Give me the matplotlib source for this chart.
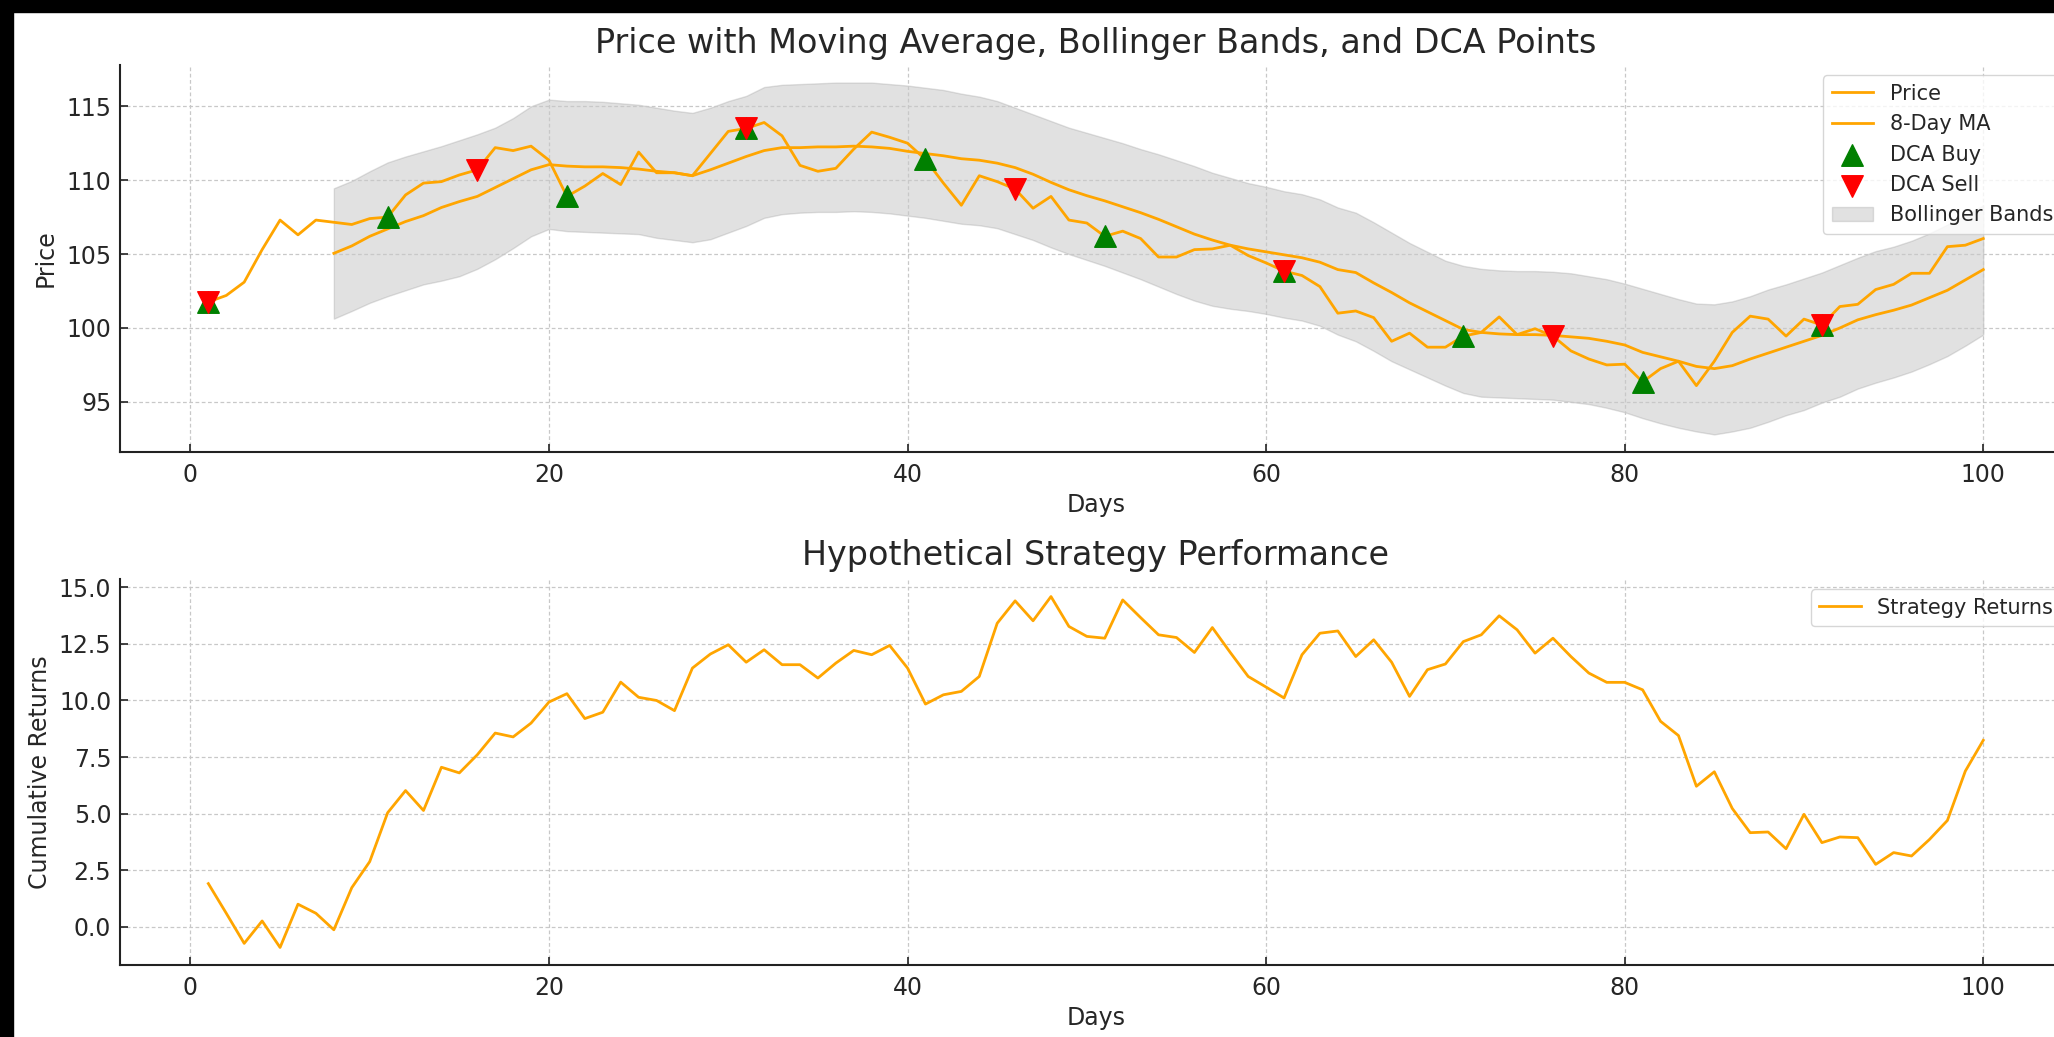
import matplotlib
matplotlib.use("Agg")
import matplotlib.pyplot as plt
from matplotlib.patches import Rectangle

# days shown on both panels
days = list(range(1, 101))

# price, day 1..100
price = [101.76, 102.2, 103.1, 105.3, 107.3, 106.3, 107.3, 107.15, 107.0, 107.4,
         107.5, 109.0, 109.8, 109.9, 110.35, 110.7, 112.2, 112.0, 112.3, 111.35,
         108.9, 109.6, 110.45, 109.7, 111.9, 110.5, 110.5, 110.3, 111.8, 113.3,
         113.5, 113.9, 113.0, 111.0, 110.6, 110.8, 112.1, 113.25, 112.9, 112.5,
         111.4, 109.8, 108.3, 110.3, 109.9, 109.4, 108.1, 108.9, 107.3, 107.1,
         106.2, 106.55, 106.05, 104.8, 104.8, 105.3, 105.35, 105.6, 104.9, 104.4,
         103.85, 103.55, 102.8, 101.0, 101.15, 100.7, 99.1, 99.65, 98.7, 98.7,
         99.45, 99.7, 100.75, 99.55, 99.95, 99.45, 98.45, 97.9, 97.5, 97.55,
         96.35, 97.25, 97.75, 96.1, 97.75, 99.7, 100.8, 100.6, 99.45, 100.6,
         100.2, 101.45, 101.6, 102.6, 102.95, 103.7, 103.7, 105.5, 105.6, 106.05]

# 8-day moving average and bands, day 8..100
ma_days = list(range(8, 101))
ma = [105.05, 105.55, 106.2, 106.7, 107.2, 107.6, 108.15, 108.55, 108.9, 109.5,
      110.1, 110.7, 111.05, 110.95, 110.9, 110.9, 110.85, 110.75, 110.6, 110.5,
      110.3, 110.7, 111.15, 111.6, 112.0, 112.2, 112.2, 112.25, 112.25, 112.3,
      112.25, 112.15, 111.95, 111.8, 111.65, 111.45, 111.35, 111.15, 110.85, 110.4,
      109.85, 109.35, 108.95, 108.6, 108.2, 107.8, 107.35, 106.85, 106.35, 105.95,
      105.6, 105.35, 105.15, 104.95, 104.75, 104.45, 103.95, 103.75, 103.05, 102.4,
      101.7, 101.1, 100.5, 99.9, 99.7, 99.6, 99.55, 99.55, 99.5, 99.4,
      99.3, 99.1, 98.85, 98.35, 98.05, 97.75, 97.4, 97.25, 97.45, 97.9,
      98.3, 98.7, 99.1, 99.5, 100.0, 100.55, 100.9, 101.2, 101.55, 102.05,
      102.55, 103.25, 103.95]
upper_band = [109.45, 109.95, 110.6, 111.2, 111.6, 111.95, 112.3, 112.7, 113.1, 113.55,
              114.2, 115.0, 115.45, 115.35, 115.35, 115.3, 115.2, 115.1, 114.9, 114.7,
              114.55, 114.9, 115.35, 115.7, 116.3, 116.45, 116.5, 116.55, 116.6, 116.6,
              116.6, 116.5, 116.4, 116.25, 116.1, 115.85, 115.65, 115.35, 114.9, 114.45,
              114.0, 113.55, 113.2, 112.85, 112.5, 112.1, 111.75, 111.35, 110.95, 110.5,
              110.15, 109.8, 109.55, 109.25, 109.05, 108.7, 108.15, 107.8, 107.15, 106.45,
              105.75, 105.15, 104.55, 104.2, 104.0, 103.9, 103.85, 103.85, 103.8, 103.7,
              103.5, 103.3, 103.0, 102.65, 102.3, 101.95, 101.65, 101.6, 101.8, 102.15,
              102.6, 102.95, 103.35, 103.75, 104.25, 104.75, 105.2, 105.5, 105.9, 106.4,
              107.0, 107.6, 108.3]
lower_band = [100.63, 101.15, 101.7, 102.15, 102.55, 102.95, 103.2, 103.5, 104.0, 104.65,
              105.4, 106.2, 106.7, 106.55, 106.5, 106.45, 106.4, 106.35, 106.1, 105.95,
              105.8, 106.0, 106.45, 106.9, 107.45, 107.7, 107.8, 107.85, 107.85, 107.9,
              107.85, 107.75, 107.6, 107.45, 107.25, 107.05, 106.95, 106.75, 106.35, 105.95,
              105.45, 105.0, 104.6, 104.2, 103.75, 103.3, 102.8, 102.3, 101.85, 101.5,
              101.3, 101.15, 100.95, 100.7, 100.5, 100.15, 99.55, 99.1, 98.45, 97.75,
              97.2, 96.65, 96.1, 95.6, 95.35, 95.3, 95.25, 95.2, 95.15, 95.0,
              94.85, 94.6, 94.3, 93.9, 93.55, 93.25, 93.0, 92.8, 93.0, 93.25,
              93.65, 94.1, 94.45, 94.95, 95.35, 95.9, 96.3, 96.65, 97.05, 97.55,
              98.1, 98.8, 99.55]

buy_days = [1, 11, 21, 31, 41, 51, 61, 71, 81, 91]
sell_days = [1, 16, 31, 46, 61, 76, 91]

# cumulative strategy returns, day 1..100
returns = [1.91, 0.6, -0.73, 0.26, -0.91, 1.0, 0.6, -0.13, 1.73, 2.88,
           5.04, 6.02, 5.14, 7.05, 6.8, 7.6, 8.56, 8.39, 9.0, 9.93,
           10.3, 9.2, 9.48, 10.81, 10.14, 10.0, 9.55, 11.43, 12.05, 12.46,
           11.69, 12.24, 11.58, 11.58, 10.99, 11.65, 12.21, 12.02, 12.43, 11.43,
           9.84, 10.25, 10.4, 11.06, 13.41, 14.4, 13.52, 14.59, 13.27, 12.83,
           12.75, 14.44, 13.66, 12.9, 12.78, 12.12, 13.22, 12.12, 11.06, 10.59,
           10.11, 12.02, 12.97, 13.07, 11.94, 12.68, 11.69, 10.18, 11.36, 11.61,
           12.6, 12.9, 13.74, 13.12, 12.09, 12.75, 11.94, 11.21, 10.8, 10.8,
           10.47, 9.08, 8.45, 6.21, 6.85, 5.23, 4.16, 4.19, 3.45, 4.97,
           3.72, 3.97, 3.94, 2.76, 3.28, 3.13, 3.86, 4.7, 6.88, 8.24]

TEXT = "#262626"
plt.rcParams["font.family"] = ["DejaVu Sans"]
plt.rcParams["text.color"] = TEXT
plt.rcParams["axes.labelcolor"] = TEXT


def style_axes(ax):
    ax.spines["top"].set_visible(False)
    ax.spines["right"].set_visible(False)
    for side in ("left", "bottom"):
        ax.spines[side].set_linewidth(1.5)
        ax.spines[side].set_color("#222222")
    ax.grid(True, linestyle=(0, (3, 2)), color="#c8c8c8", linewidth=0.9)
    ax.tick_params(axis="both", direction="in", length=6, width=1.2,
                   labelsize=17, colors="#222222", labelcolor=TEXT)
    ax.tick_params(axis="x", pad=8)
    ax.tick_params(axis="y", pad=6)


W, H = 2054, 1037
fig = plt.figure(figsize=(W / 100, H / 100), dpi=100)
fig.patch.set_facecolor("white")

ax1 = fig.add_axes([119.6 / W, 1 - 452 / H, (2072 - 119.6) / W, (452 - 65) / H])
ax2 = fig.add_axes([119.6 / W, 1 - 965 / H, (2072 - 119.6) / W, (965 - 579) / H])

# top panel: price, moving average, bands and DCA markers
price_line, = ax1.plot(days, price, color="orange", linewidth=2.0, label="Price", zorder=3)
ma_line, = ax1.plot(ma_days, ma, color="orange", linewidth=2.0, label="8-Day MA", zorder=3)
buy_pts = ax1.scatter(buy_days, [price[d - 1] for d in buy_days], marker="^",
                      color="green", s=240, label="DCA Buy", zorder=4)
sell_pts = ax1.scatter(sell_days, [price[d - 1] for d in sell_days], marker="v",
                       color="red", s=240, label="DCA Sell", zorder=5)
band = ax1.fill_between(ma_days, lower_band, upper_band, color="gray", alpha=0.23,
                        label="Bollinger Bands", zorder=1)
ax1.set_title("Price with Moving Average, Bollinger Bands, and DCA Points", fontsize=24, pad=9)
ax1.set_xlabel("Days", fontsize=17)
ax1.set_ylabel("Price", fontsize=17, labelpad=6)
style_axes(ax1)
ax1.legend(handles=[price_line, ma_line, buy_pts, sell_pts, band], loc="upper right",
           fontsize=15, framealpha=0.8, edgecolor="#cccccc")

# bottom panel: strategy returns
ax2.plot(days, returns, color="orange", linewidth=2.0, label="Strategy Returns")
ax2.set_title("Hypothetical Strategy Performance", fontsize=24, pad=10)
ax2.set_xlabel("Days", fontsize=17)
ax2.set_ylabel("Cumulative Returns", fontsize=17, labelpad=5)
style_axes(ax2)
ax2.legend(loc="upper right", fontsize=15, framealpha=0.8, edgecolor="#cccccc")

# dark border of the screenshot along the top and left
fig.add_artist(Rectangle((0, 1 - 12 / H), 1, 12 / H, transform=fig.transFigure,
                         color="black", zorder=10))
fig.add_artist(Rectangle((0, 0), 12.5 / W, 1, transform=fig.transFigure,
                         color="black", zorder=10))

fig.savefig("out.png", dpi=100)
